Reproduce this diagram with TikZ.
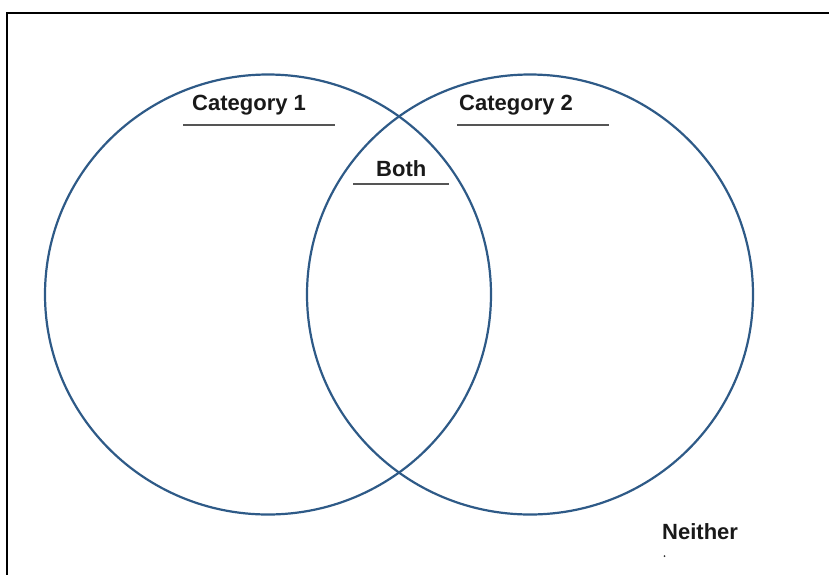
\documentclass[tikz,border=0pt]{standalone}
\usepackage{fontspec}
\setmainfont{Liberation Sans}
\usetikzlibrary{shapes.geometric}
\definecolor{vennblue}{HTML}{2E5A87}
\definecolor{ulgray}{HTML}{555555}
\tikzset{
  venn/.style={draw=vennblue, line width=2.2pt, ellipse, minimum width=446pt, minimum height=440pt, inner sep=0pt},
  lbl/.style={anchor=base west, inner sep=0pt, font=\fontsize{22}{24}\selectfont\bfseries, text=black!90},
  uline/.style={draw=ulgray, line width=1.3pt},
  frame/.style={draw=black, line width=2pt}
}
\begin{document}
\begin{tikzpicture}[x=1pt,y=-1pt]
\useasboundingbox (0,0) rectangle (829,574);
% frame (only top and left edges visible)
\coordinate (fbl) at (7,575);
\coordinate (ftl) at (7,13);
\coordinate (ftr) at (830,13);
\draw[frame] (fbl) -- (ftl) -- (ftr);
% circles
\node[venn] (c1) at (268,294.5) {};
\node[venn] (c2) at (530,294.5) {};
% labels
\node[lbl] (cat1) at (192,110) {Category 1};
\node[lbl] (cat2) at (459,110) {Category 2};
\node[lbl] (both) at (376,176.5) {Both};
\node[lbl] (neither) at (662,539.5) {Neither};
% underlines
\coordinate (u1a) at (183,125); \coordinate (u1b) at (335,125);
\coordinate (u2a) at (457,125); \coordinate (u2b) at (609,125);
\coordinate (u3a) at (353,184); \coordinate (u3b) at (449,184);
\draw[uline] (u1a) -- (u1b);
\draw[uline] (u2a) -- (u2b);
\draw[uline] (u3a) -- (u3b);
% small mark under Neither
\fill[black!80] (664.5,556) circle (1pt);
\end{tikzpicture}
\end{document}
